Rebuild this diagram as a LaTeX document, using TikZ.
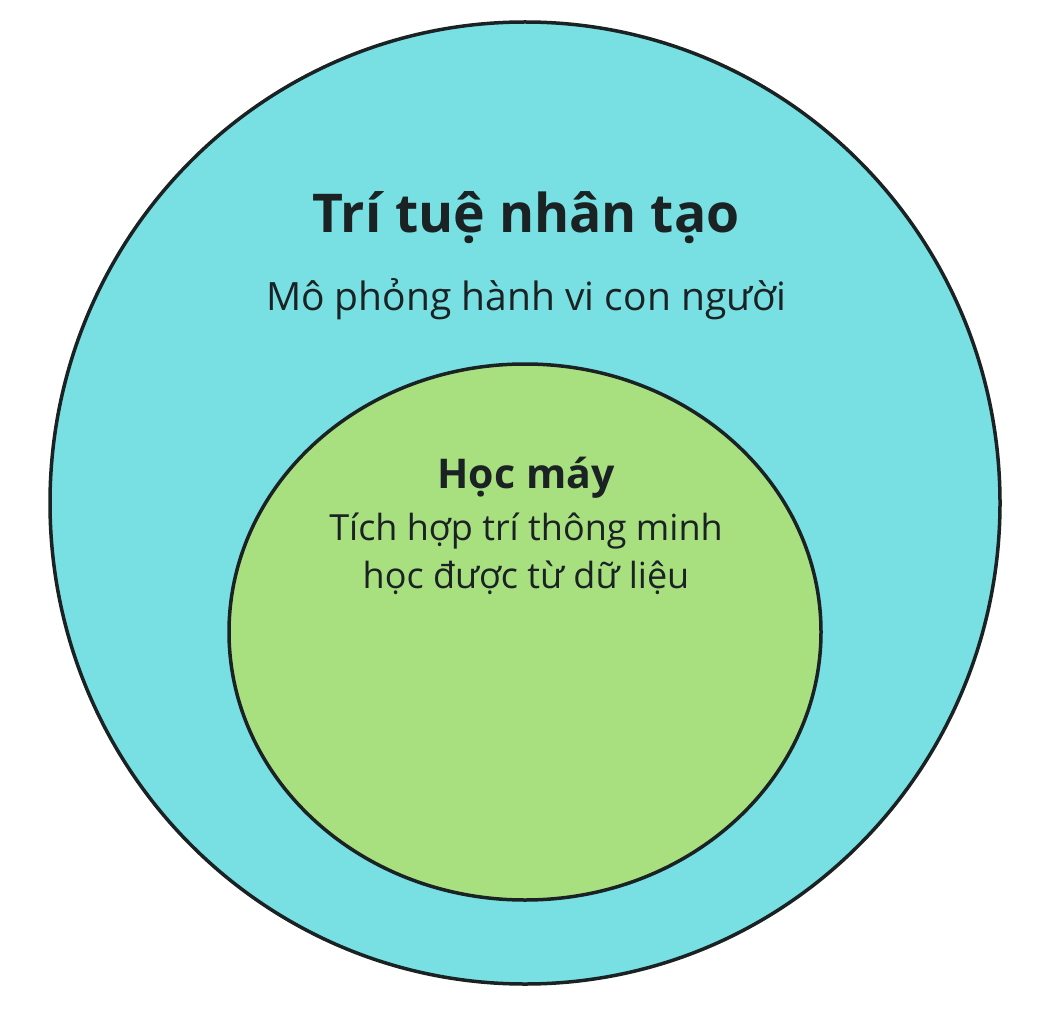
\documentclass[tikz,border=0pt]{standalone}
\usepackage{fontspec}
\usetikzlibrary{shapes.geometric}
\setmainfont{Open Sans}
\definecolor{aicyan}{HTML}{78E0E2}
\definecolor{mlgreen}{HTML}{A9E07F}
\definecolor{ink}{HTML}{1A2224}
\begin{document}
\begin{tikzpicture}[x=1pt,y=-1pt,
  ring/.style={draw=ink,line width=3.5pt,ellipse,inner sep=0pt,outer sep=0pt},
  title/.style={font=\fontsize{53.5}{60}\selectfont\bfseries,text=ink,anchor=base},
  sub/.style={font=\fontsize{39}{47}\selectfont,text=ink,anchor=base}]
\useasboundingbox (0,0) rectangle (1052,1024);
\fill[white] (0,0) rectangle (1052,1024);
\node[ring,fill=aicyan,minimum width=950pt,minimum height=962pt] (outer) at (525,503) {};
\node[ring,fill=mlgreen,minimum width=592pt,minimum height=536pt] (inner) at (525,632) {};
\node[title] (ai) at (526,233) {Trí tuệ nhân tạo};
\node[sub] (aisub) at (526,310) {Mô phỏng hành vi con người};
\node[title,font=\fontsize{41}{48}\selectfont\bfseries] (ml) at (526,488) {Học máy};
\node[sub,font=\fontsize{36}{44}\selectfont] (mlsub1) at (526,540) {Tích hợp trí thông minh};
\node[sub,font=\fontsize{36}{44}\selectfont] (mlsub2) at (526,588) {học được từ dữ liệu};
\end{tikzpicture}
\end{document}
